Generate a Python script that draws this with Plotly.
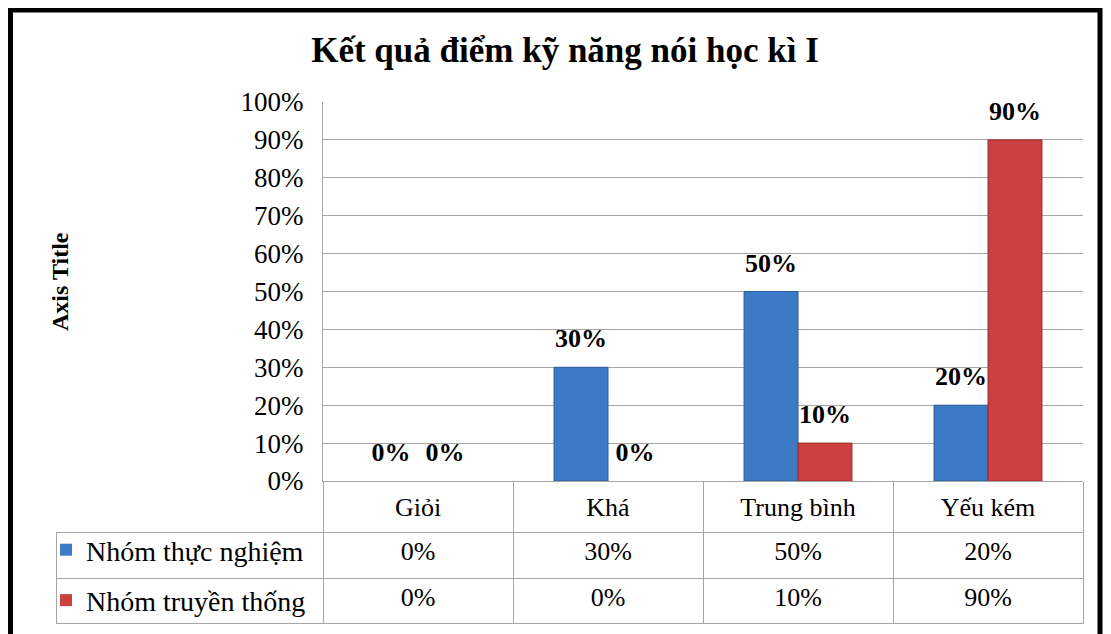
import plotly.graph_objects as go

# ---- data ----
categories = ["Giỏi", "Khá", "Trung bình", "Yếu kém"]
series_names = ["Nhóm thực nghiệm", "Nhóm truyền thống"]
thuc_nghiem = [0.0, 0.30, 0.50, 0.20]
truyen_thong = [0.0, 0.0, 0.10, 0.90]
y_ticks = [0, 0.1, 0.2, 0.3, 0.4, 0.5, 0.6, 0.7, 0.8, 0.9, 1.0]
title_text = "Kết quả điểm kỹ năng nói học kì I"
axis_title = "Axis Title"

# ---- style / layout ----
OFF = 8                      # page body margin of the html page
W, H = 1111 - OFF, 634 - OFF
FONT = "Liberation Serif"
BLUE, BLUE_EDGE = "#3D7AC6", "#2B5C9C"
RED, RED_EDGE = "#CC4040", "#9A2C2C"
GRID = "#A6A6A6"
BAR_W = 0.284  # fraction of category width per bar

# plot area in page pixels
PL, PR, PT, PB = 323, 1083, 102, 481


def px_x(x):
    return (x - OFF) / W


def px_y(y):
    return 1 - (y - OFF) / H


xs = list(range(len(categories)))
fig = go.Figure()

fig.add_trace(go.Bar(
    x=xs, y=thuc_nghiem, name=series_names[0], width=BAR_W, offset=-BAR_W,
    marker=dict(color=BLUE, line=dict(color=BLUE_EDGE, width=[1 if v > 0 else 0 for v in thuc_nghiem])),
    legendgroup="a", showlegend=True, hoverinfo="skip"))
fig.add_trace(go.Bar(
    x=xs, y=truyen_thong, name=series_names[1], width=BAR_W, offset=0,
    marker=dict(color=RED, line=dict(color=RED_EDGE, width=[1 if v > 0 else 0 for v in truyen_thong])),
    legendgroup="b", showlegend=True, hoverinfo="skip"))

# data labels
for vals, sign in ((thuc_nghiem, -1), (truyen_thong, 1)):
    fig.add_trace(go.Scatter(
        x=[i + sign * BAR_W / 2 for i in xs], y=vals, mode="markers+text",
        text=[f"{v:.0%}" for v in vals], textposition="top center",
        textfont=dict(family=FONT, size=26, color="black", weight="bold"),
        marker=dict(size=20, opacity=0), cliponaxis=False,
        showlegend=False, hoverinfo="skip"))


# data table body (values; legend keys sit in the first column)
def pct(v):
    return f"{v:.0%}"


row1 = [""] + [pct(v) for v in thuc_nghiem]
row2 = [""] + [pct(v) for v in truyen_thong]

fig.add_trace(go.Table(
    domain=dict(x=[px_x(56), px_x(PR)], y=[0, px_y(532)]),
    columnwidth=[PL - 56] + [(PR - PL) / 4] * 4,
    header=dict(values=row1, height=46, align=["left"] + ["center"] * 4,
                line=dict(color=GRID, width=1), fill=dict(color="white"),
                font=dict(family=FONT, size=26, color="black")),
    cells=dict(values=[[c] for c in row2], height=45, align=["left"] + ["center"] * 4,
               line=dict(color=GRID, width=1), fill=dict(color="white"),
               font=dict(family=FONT, size=26, color="black")),
))

fig.update_layout(
    width=W, height=H,
    margin=dict(l=0, r=0, t=0, b=0),
    paper_bgcolor="white", plot_bgcolor="white",
    barmode="overlay",
    font=dict(family=FONT, color="black"),
    title=dict(text=f"<b>{title_text}</b>", x=(565 - OFF) / W, y=px_y(50),
               xref="container", yref="container", xanchor="center", yanchor="middle",
               font=dict(family=FONT, size=35, color="black")),
    legend=dict(x=px_x(46), y=px_y(575), xanchor="left", yanchor="middle",
                traceorder="grouped", tracegroupgap=11, bgcolor="rgba(0,0,0,0)",
                font=dict(family=FONT, size=28, color="black")),
    xaxis=dict(domain=[px_x(PL), px_x(PR)], range=[-0.5, len(categories) - 0.5],
               tickmode="array", tickvals=xs, ticktext=categories, ticks="",
               showgrid=False, zeroline=False, showline=True, linecolor=GRID,
               tickfont=dict(family=FONT, size=26, color="black"),
               ticklabelstandoff=3, automargin=False,
               minor=dict(tickmode="array", tickvals=[i - 0.5 for i in range(len(categories) + 1)],
                          ticks="outside", ticklen=51, tickcolor=GRID, tickwidth=1, showgrid=False)),
    yaxis=dict(domain=[px_y(PB), px_y(PT)], range=[0, 1], tickmode="array", tickvals=y_ticks,
               tickformat=".0%", showgrid=True, gridcolor=GRID, gridwidth=1,
               zeroline=False, showline=True, linecolor=GRID, ticks="",
               tickfont=dict(family=FONT, size=27, color="black"),
               ticklabelstandoff=13, automargin=False),
    annotations=[dict(text=f"<b>{axis_title}</b>", textangle=-90, x=px_x(60), y=px_y(282),
                      xref="paper", yref="paper", xanchor="center", yanchor="middle",
                      showarrow=False, font=dict(family=FONT, size=24, color="black"))],
    shapes=[dict(type="rect", xref="paper", yref="paper",
                 x0=px_x(10.5), x1=px_x(1100), y0=-0.1, y1=px_y(10),
                 line=dict(color="black", width=5), fillcolor="rgba(0,0,0,0)", layer="below")],
)

fig.write_html("out.html")
